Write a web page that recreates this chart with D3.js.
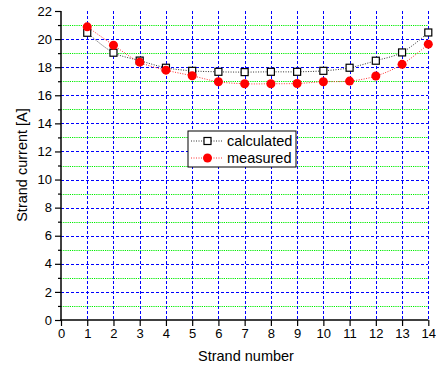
<!DOCTYPE html>
<html><head><meta charset="utf-8">
<script src="https://cdn.jsdelivr.net/npm/d3@7"></script>
<style>body{margin:0;background:#fff}svg{display:block;font-family:"Liberation Sans",Arial,sans-serif}</style>
</head><body><svg id="c" width="436" height="367"></svg>
<script>
const strands = [1,2,3,4,5,6,7,8,9,10,11,12,13,14];
const calculated = [20.45,19.03,18.47,17.96,17.74,17.67,17.65,17.67,17.67,17.74,17.96,18.46,19.05,20.47];
const measured = [20.87,19.57,18.36,17.79,17.39,16.96,16.82,16.82,16.84,16.96,17.01,17.37,18.2,19.64];
const xTicks = [0,1,2,3,4,5,6,7,8,9,10,11,12,13,14];
const yMajor = [0,2,4,6,8,10,12,14,16,18,20,22];
const yMinor = [1,3,5,7,9,11,13,15,17,19,21];

const svg = d3.select("#c");
const x = d3.scaleLinear().domain([0,14]).range([61,428.3]);
const y = d3.scaleLinear().domain([0,22]).range([320,11]);
const px = v => Math.round(v) + 0.5;

const g = svg.append("g");
// grid
g.selectAll("line.gm").data(yMinor).join("line").attr("class","gm")
  .attr("x1",61).attr("x2",428).attr("y1",d=>px(y(d))).attr("y2",d=>px(y(d)))
  .attr("stroke","#00ee00").attr("stroke-width",1.2).attr("stroke-dasharray","1.2,1");
g.selectAll("line.gM").data(yMajor.filter(d=>d>0&&d<22)).join("line").attr("class","gM")
  .attr("shape-rendering","crispEdges")
  .attr("x1",61).attr("x2",428).attr("y1",d=>px(y(d))).attr("y2",d=>px(y(d)))
  .attr("stroke","#0000ff").attr("stroke-width",1).attr("stroke-dasharray","3,2");
g.selectAll("line.gv").data(xTicks.filter(d=>d>0)).join("line").attr("class","gv")
  .attr("shape-rendering","crispEdges")
  .attr("x1",d=>px(x(d))).attr("x2",d=>px(x(d))).attr("y1",11).attr("y2",320)
  .attr("stroke","#0000ff").attr("stroke-width",1).attr("stroke-dasharray","3,2");

// axes
const xAxis = d3.axisBottom(x).tickValues(xTicks).tickSize(6).tickPadding(3).tickFormat(d3.format("d"));
const xa = svg.append("g").attr("transform","translate(0,320)").call(xAxis);
xa.select(".domain").attr("stroke","#000").attr("stroke-width",1.5).attr("d","M60,0H428.3");
xa.selectAll("text").attr("font-size",13).attr("fill","#000").attr("font-family","Liberation Sans, Arial");
xa.selectAll("line").attr("stroke-width",1.2);

const yAxis = d3.axisLeft(y).tickValues(yMajor).tickSize(6).tickPadding(3).tickFormat(d3.format("d"));
const ya = svg.append("g").attr("transform","translate(61,0)").call(yAxis);
ya.select(".domain").attr("stroke","#000").attr("stroke-width",1.5).attr("d","M0,320V11");
ya.selectAll("text").attr("font-size",13).attr("fill","#000").attr("font-family","Liberation Sans, Arial");
ya.selectAll("line").attr("stroke-width",1.2);
const yAxisMinor = d3.axisLeft(y).tickValues(yMinor).tickSize(3).tickFormat("");
const ym = svg.append("g").attr("transform","translate(61,0)").call(yAxisMinor);
ym.select(".domain").remove();
ym.selectAll("line").attr("stroke-width",1.2);

// labels
svg.append("text").attr("x",246).attr("y",361).attr("text-anchor","middle")
  .attr("font-size",14.5).text("Strand number");
svg.append("text").attr("transform","translate(27,165) rotate(-90)").attr("text-anchor","middle")
  .attr("font-size",14.5).text("Strand current [A]");

// lines
const line = d3.line().x((d,i)=>x(strands[i])).y(d=>y(d)).curve(d3.curveCatmullRom.alpha(0.5));
svg.append("path").attr("d",line(calculated)).attr("fill","none").attr("stroke","#333")
  .attr("stroke-width",1).attr("stroke-dasharray","1,1.5");
svg.append("path").attr("d",line(measured)).attr("fill","none").attr("stroke","#ff3030")
  .attr("stroke-width",1).attr("stroke-dasharray","1,1.5");

svg.selectAll("rect.cm").data(calculated).join("rect").attr("class","cm")
  .attr("x",(d,i)=>x(strands[i])-3.5).attr("y",d=>y(d)-3.5).attr("width",7).attr("height",7)
  .attr("fill","#fff").attr("stroke","#000").attr("stroke-width",1.2);
svg.selectAll("circle.mm").data(measured).join("circle").attr("class","mm")
  .attr("cx",(d,i)=>x(strands[i])).attr("cy",d=>y(d)).attr("r",4.5).attr("fill","#ff0000");

// legend
const lg = svg.append("g");
lg.append("rect").attr("x",188).attr("y",131).attr("width",108).attr("height",36)
  .attr("fill","#fff").attr("stroke","#000").attr("stroke-width",1);
lg.append("line").attr("x1",191).attr("x2",223).attr("y1",141).attr("y2",141)
  .attr("stroke","#333").attr("stroke-dasharray","1,1.5");
lg.append("rect").attr("x",204).attr("y",137.5).attr("width",7).attr("height",7)
  .attr("fill","#fff").attr("stroke","#000").attr("stroke-width",1.2);
lg.append("line").attr("x1",191).attr("x2",223).attr("y1",158).attr("y2",158)
  .attr("stroke","#ff3030").attr("stroke-dasharray","1,1.5");
lg.append("circle").attr("cx",207.5).attr("cy",158).attr("r",4.5).attr("fill","#ff0000");
lg.append("text").attr("x",227).attr("y",146).attr("font-size",14.5).text("calculated");
lg.append("text").attr("x",227).attr("y",163).attr("font-size",14.5).text("measured");
</script></body></html>
